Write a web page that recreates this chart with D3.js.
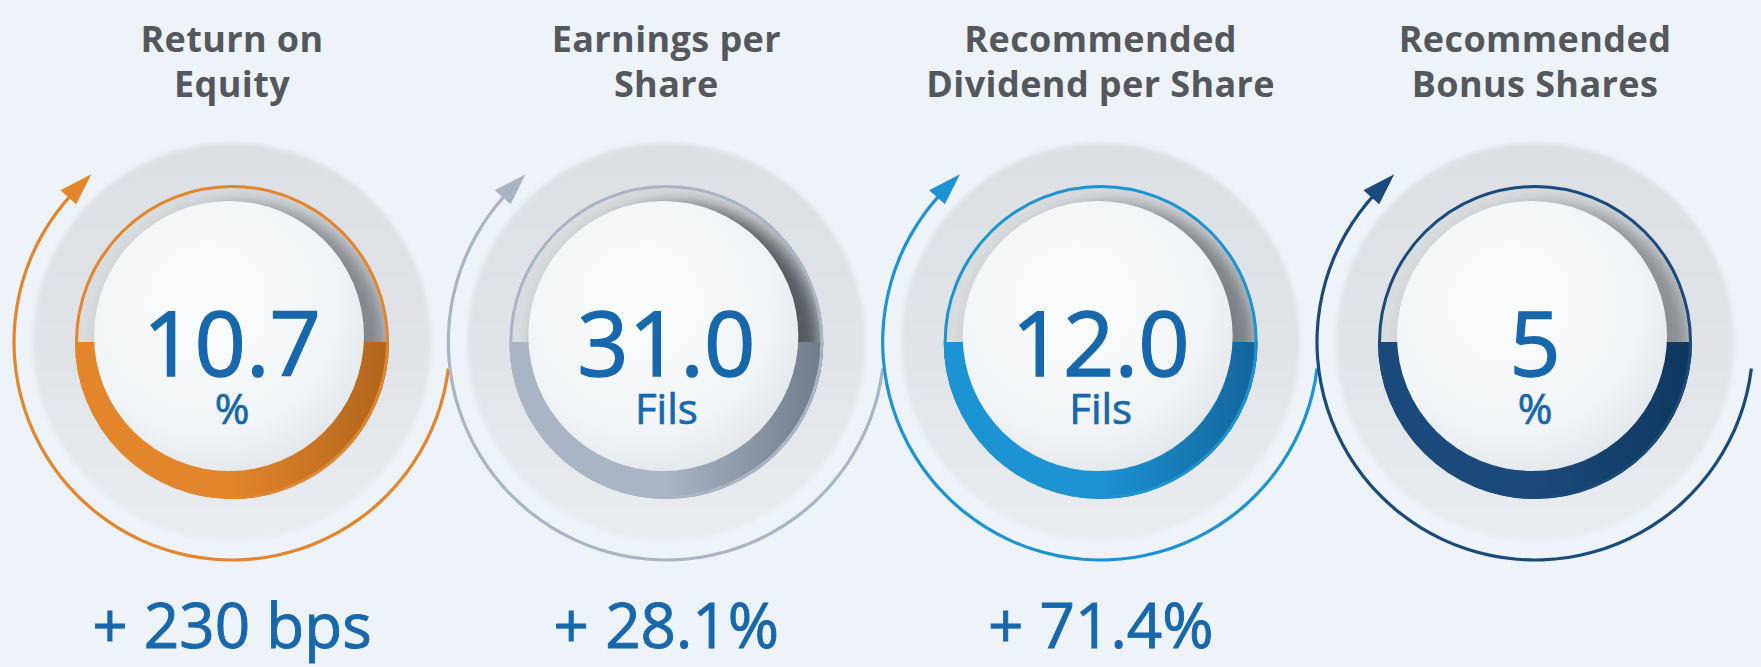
<!DOCTYPE html>
<html>
<head>
<meta charset="utf-8">
<script src="https://cdn.jsdelivr.net/npm/d3@7"></script>
<style>
  html, body { margin: 0; padding: 0; background: #edf3f9; overflow: hidden; }
  svg { display: block; font-family: "Open Sans", "Noto Sans", sans-serif; }
</style>
</head>
<body>
<svg id="chart"></svg>
<script>
// data
const keys = ["roe", "eps", "dps", "bonus"];
const titles = [["Return on", "Equity"], ["Earnings per", "Share"], ["Recommended", "Dividend per Share"], ["Recommended", "Bonus Shares"]];
const values = ["10.7", "31.0", "12.0", "5"];
const units = ["%", "Fils", "Fils", "%"];
const changes = ["+ 230 bps", "+ 28.1%", "+ 71.4%", ""];

const width = 1761;
const height = 667;
const cy = 342;

const R_DISC = 199;
const R_RING = 157;
const R_BTN = 135;
const R_OUT = 218;

const x = d3.scalePoint().domain(keys).range([232, 1535]);
const ringColor = d3.scaleOrdinal().domain(keys).range(["#e3852a", "#a9b5c4", "#1c93d3", "#1a4a7b"]);
const bandDark = d3.scaleOrdinal().domain(keys).range(["#b0641d", "#6f7b8a", "#12649a", "#0f365e"]);
const shadowAlpha = d3.scaleOrdinal().domain(keys).range([0.55, 0.85, 0.6, 0.5]);

const deg = (d) => (d * Math.PI) / 180;
const polar = (a, r) => [r * Math.sin(a), -r * Math.cos(a)];

const svg = d3.select("#chart").attr("width", width).attr("height", height);
const defs = svg.append("defs");

defs.append("filter").attr("id", "soft").attr("x", "-20%").attr("y", "-20%").attr("width", "140%").attr("height", "140%")
  .append("feGaussianBlur").attr("stdDeviation", 2);
defs.append("filter").attr("id", "blur").attr("x", "-30%").attr("y", "-30%").attr("width", "160%").attr("height", "160%")
  .append("feGaussianBlur").attr("stdDeviation", 9);

const discGrad = defs.append("linearGradient").attr("id", "disc").attr("x1", 0).attr("y1", 0).attr("x2", 0).attr("y2", 1);
discGrad.append("stop").attr("offset", 0).attr("stop-color", "#dcdfe3");
discGrad.append("stop").attr("offset", 0.6).attr("stop-color", "#e1e4e8");
discGrad.append("stop").attr("offset", 1).attr("stop-color", "#e9edf1");

const btnGrad = defs.append("radialGradient").attr("id", "btn").attr("cx", 0.42).attr("cy", 0.38).attr("r", 0.65);
btnGrad.append("stop").attr("offset", 0).attr("stop-color", "#fbfcfd");
btnGrad.append("stop").attr("offset", 0.75).attr("stop-color", "#f1f4f6");
btnGrad.append("stop").attr("offset", 1).attr("stop-color", "#e3e7eb");

defs.append("clipPath").attr("id", "channel")
  .append("circle").attr("r", R_RING);

keys.forEach((k) => {
  const g = defs.append("linearGradient").attr("id", "band-" + k)
    .attr("gradientUnits", "userSpaceOnUse")
    .attr("x1", -R_RING).attr("y1", 0).attr("x2", R_RING).attr("y2", 0);
  g.append("stop").attr("offset", 0).attr("stop-color", ringColor(k));
  g.append("stop").attr("offset", 0.5).attr("stop-color", ringColor(k));
  g.append("stop").attr("offset", 1).attr("stop-color", bandDark(k));
});

const band = d3.arc().innerRadius(R_BTN - 8).outerRadius(R_RING)
  .startAngle(Math.PI / 2).endAngle(Math.PI * 1.5);
const outer = d3.arc().innerRadius(R_OUT - 1.6).outerRadius(R_OUT + 1.6)
  .startAngle(deg(97)).endAngle(deg(313));

const panel = svg.selectAll("g.panel")
  .data(keys)
  .join("g")
  .attr("class", "panel")
  .attr("transform", (k) => `translate(${x(k)},${cy})`);

// grey base disc
panel.append("circle").attr("r", R_DISC).attr("fill", "url(#disc)").attr("filter", "url(#soft)");

// outer arrow ring
panel.append("path").attr("d", outer()).attr("fill", (k) => ringColor(k));
panel.append("path")
  .attr("d", () => {
    const tip = polar(deg(320), R_OUT + 1);
    const b1 = polar(deg(311.5), R_OUT - 10);
    const b2 = polar(deg(311.5), R_OUT + 11);
    return `M${tip}L${b1}L${b2}Z`;
  })
  .attr("fill", (k) => ringColor(k));

// recessed channel
panel.append("circle").attr("r", R_RING).attr("fill", "#d9dcdf");
panel.append("g").attr("clip-path", "url(#channel)")
  .append("circle")
  .attr("cx", 14).attr("cy", 4).attr("r", 142)
  .attr("fill", "#3d4248")
  .attr("opacity", (k) => shadowAlpha(k))
  .attr("filter", "url(#blur)");

// coloured band on the lower half
panel.append("path").attr("d", band()).attr("fill", (k) => `url(#band-${k})`);

// thin ring
panel.append("circle").attr("r", R_RING - 1.5).attr("fill", "none")
  .attr("stroke", (k) => ringColor(k)).attr("stroke-width", 3);

// raised button
panel.append("circle").attr("cx", -3).attr("cy", -6).attr("r", R_BTN)
  .attr("fill", "url(#btn)");

// texts
const title = svg.selectAll("text.title")
  .data(keys)
  .join("text")
  .attr("class", "title")
  .attr("x", (k) => x(k))
  .attr("text-anchor", "middle")
  .attr("font-size", 36)
  .attr("font-weight", 700)
  .attr("letter-spacing", 0.4)
  .attr("fill", "#54585d");
title.selectAll("tspan")
  .data((k, i) => titles[i])
  .join("tspan")
  .attr("x", function () { return this.parentNode.getAttribute("x"); })
  .attr("y", (d, j) => 52 + j * 45)
  .text((d) => d);

const label = svg.selectAll("text.value")
  .data(keys)
  .join("text")
  .attr("class", "value")
  .attr("text-anchor", "middle")
  .attr("fill", "#1767ac")
  .attr("stroke", "#1767ac");
label.append("tspan")
  .attr("x", (k) => x(k))
  .attr("y", 376)
  .attr("font-size", 90)
  .attr("stroke-width", 1.4)
  .text((k, i) => values[i]);
label.append("tspan")
  .attr("x", (k) => x(k))
  .attr("y", 424)
  .attr("font-size", 42)
  .attr("stroke-width", 0.7)
  .text((k, i) => units[i]);

svg.selectAll("text.change")
  .data(keys)
  .join("text")
  .attr("class", "change")
  .attr("x", (k) => x(k))
  .attr("y", 648)
  .attr("text-anchor", "middle")
  .attr("font-size", 62)
  .attr("fill", "#1767ac")
  .attr("stroke", "#1767ac")
  .attr("stroke-width", 0.9)
  .text((k, i) => changes[i]);
</script>
</body>
</html>
